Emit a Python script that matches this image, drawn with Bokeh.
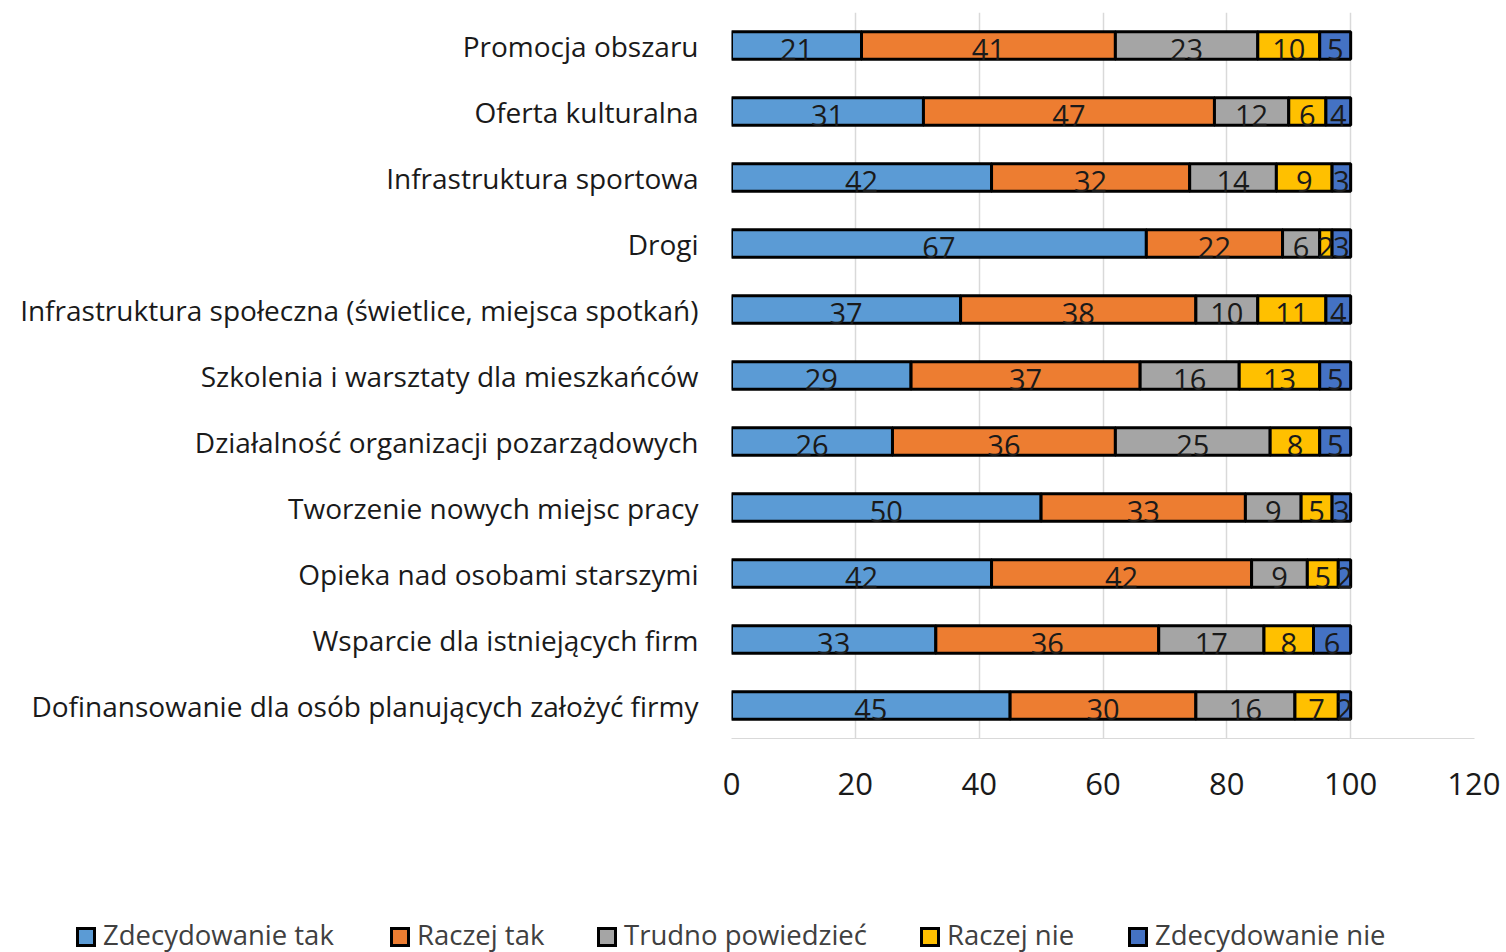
from bokeh.plotting import figure
from bokeh.layouts import column
from bokeh.models import FactorRange, Range1d, ColumnDataSource, FixedTicker, Div
from bokeh.core.properties import value
from bokeh.embed import file_html
from bokeh.resources import INLINE

categories = [
    "Promocja obszaru",
    "Oferta kulturalna",
    "Infrastruktura sportowa",
    "Drogi",
    "Infrastruktura społeczna (świetlice, miejsca spotkań)",
    "Szkolenia i warsztaty dla mieszkańców",
    "Działalność organizacji pozarządowych",
    "Tworzenie nowych miejsc pracy",
    "Opieka nad osobami starszymi",
    "Wsparcie dla istniejących firm",
    "Dofinansowanie dla osób planujących założyć firmy",
]
series_names = ["Zdecydowanie tak", "Raczej tak", "Trudno powiedzieć", "Raczej nie", "Zdecydowanie nie"]
zdecydowanie_tak = [21, 31, 42, 67, 37, 29, 26, 50, 42, 33, 45]
raczej_tak = [41, 47, 32, 22, 38, 37, 36, 33, 42, 36, 30]
trudno_powiedziec = [23, 12, 14, 6, 10, 16, 25, 9, 9, 17, 16]
raczej_nie = [10, 6, 9, 2, 11, 13, 8, 5, 5, 8, 7]
zdecydowanie_nie = [5, 4, 3, 3, 4, 5, 5, 3, 2, 6, 2]
x_ticks = [0, 20, 40, 60, 80, 100, 120]

colors = ["#5B9BD5", "#ED7D31", "#A5A5A5", "#FFC000", "#4472C4"]
keys = ["s0", "s1", "s2", "s3", "s4"]
all_series = [zdecydowanie_tak, raczej_tak, trudno_powiedziec, raczej_nie, zdecydowanie_nie]

data = {"cat": categories}
for k, s in zip(keys, all_series):
    data[k] = s
source = ColumnDataSource(data)

FONT = "Open Sans"

p = figure(
    width=1500, height=812,
    y_range=FactorRange(*list(reversed(categories)), range_padding=0),
    x_range=Range1d(0, 120),
    output_backend="svg", toolbar_location=None,
    min_border_left=731, min_border_right=26, min_border_top=12, min_border_bottom=74,
)
p.outline_line_color = None

renderers = p.hbar_stack(keys, y="cat", height=0.42, color=colors, source=source,
                         line_color="black", line_width=3)

# data labels
lx, ly, lt = [], [], []
for i, cat in enumerate(categories):
    left = 0
    for s in all_series:
        v = s[i]
        lx.append(left + v / 2)
        ly.append(cat)
        lt.append(str(v))
        left += v
p.text(x=lx, y=ly, text=lt, text_align="center", text_baseline="middle",
       text_font=value(FONT), text_font_size="29px", text_color="#1a1a1a", y_offset=4)

# axes
p.xaxis.ticker = FixedTicker(ticks=x_ticks)
p.xaxis.axis_line_color = "#D9D9D9"
p.xaxis.major_tick_line_color = None
p.xaxis.minor_tick_line_color = None
p.xaxis.major_label_text_font = FONT
p.xaxis.major_label_text_font_size = "31px"
p.xaxis.major_label_text_color = "#1a1a1a"
p.xaxis.major_label_standoff = 28

p.yaxis.axis_line_color = None
p.yaxis.major_tick_line_color = None
p.yaxis.minor_tick_line_color = None
p.yaxis.major_label_text_font = FONT
p.yaxis.major_label_text_font_size = "28px"
p.yaxis.major_label_text_color = "#1a1a1a"
p.yaxis.major_label_standoff = 27

p.xgrid.ticker = FixedTicker(ticks=x_ticks)
p.xgrid.grid_line_color = "#D9D9D9"
p.xgrid.grid_line_width = 1.5
p.ygrid.grid_line_color = None

# legend strip (HTML) below the plot
legend_left = [71, 385, 592, 915, 1123]
items_html = []
for name, col, lft in zip(series_names, colors, legend_left):
    items_html.append(
        f'<div style="position:absolute;box-sizing:border-box;left:{lft}px;top:110px;width:20px;height:20px;'
        f'background:{col};border:3px solid #000;"></div>'
        f'<div style="position:absolute;left:{lft + 27}px;top:100px;height:36px;line-height:36px;'
        f'white-space:nowrap;font-family:\'Open Sans\';font-size:27.5px;color:#404040;">{name}</div>'
    )
legend_div = Div(
    text='<div style="position:relative;width:1500px;height:136px;">' + "".join(items_html) + "</div>",
    width=1500, height=136,
)

layout = column(p, legend_div, spacing=0)
open("out.html", "w").write(file_html(layout, INLINE))
